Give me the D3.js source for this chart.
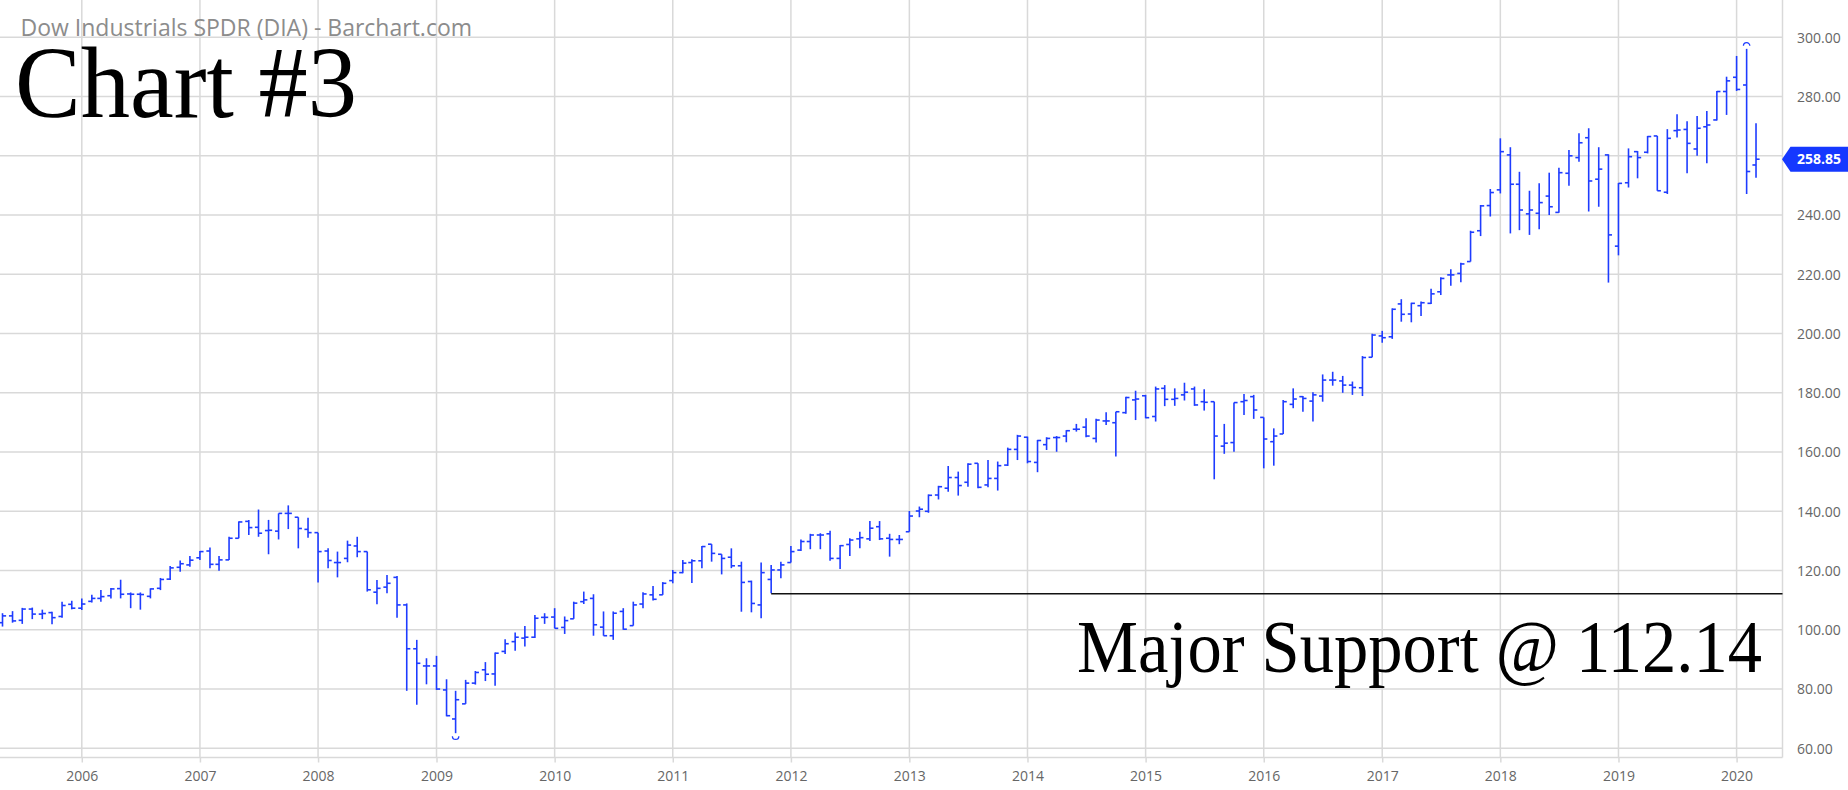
<!DOCTYPE html>
<html><head><meta charset="utf-8">
<script src="https://cdn.jsdelivr.net/npm/d3@7/dist/d3.min.js"></script>
<style>
html,body{margin:0;padding:0;background:#fff;}
svg{display:block;}
</style></head>
<body>
<svg id="chart" width="1848" height="790"></svg>
<script>
// ---- data (monthly OHLC, Dow Industrials SPDR, starting May 2005) ----
const startMonth = "2005-05";
const open = [
 102.4,104.7,103.2,107.0,105.3,105.8,104.5,108.6,
 107.3,109.6,110.6,111.5,113.9,112.1,112.0,111.3,114.0,117.1,121.1,121.9,
 124.3,126.6,122.1,123.6,130.9,136.6,134.6,133.5,133.3,139.3,138.0,133.9,
 132.8,126.6,122.7,124.1,128.3,126.4,112.7,114.4,117.7,108.4,93.6,87.8,
 87.8,79.7,69.9,75.0,82.0,86.5,85.1,92.7,96.0,97.2,97.5,104.2,
 104.3,100.8,103.7,109.5,110.6,100.9,98.0,106.2,101.4,108.7,111.8,111.8,
 116.6,119.3,122.7,123.3,128.9,125.5,124.5,121.6,116.3,108.4,117.0,120.2,
 122.7,126.9,129.8,132.0,132.4,124.1,128.8,130.7,130.7,134.8,130.9,130.5,
 133.1,140.1,140.0,145.5,147.8,151.4,149.8,156.2,148.9,151.1,155.6,160.9,
 165.0,156.5,162.5,164.9,165.4,167.7,168.4,164.6,170.5,169.9,173.3,177.6,
 179.0,172.0,181.5,177.8,179.3,181.3,177.0,177.0,162.0,163.2,177.0,178.7,
 171.7,163.5,166.1,176.1,178.7,177.2,178.9,184.3,184.0,182.6,181.7,192.0,
 199.2,198.9,210.0,206.6,209.4,210.2,214.1,219.8,220.3,224.3,234.7,243.2,
 248.5,260.3,250.4,240.4,240.6,246.4,240.9,254.1,259.4,266.1,252.1,260.3,
 229.5,250.9,261.4,261.2,266.7,247.7,268.5,268.9,262.3,269.8,272.1,281.7,
 286.5,283.9,256.9
];
const high = [
 105.6,106.3,107.4,107.5,106.8,106.1,109.5,109.8,
 110.6,111.8,113.4,114.1,116.9,112.6,112.6,114.0,117.5,121.5,123.4,124.9,
 126.6,127.8,124.9,131.4,136.6,137.1,140.6,137.1,139.3,142.0,138.0,137.8,
 132.8,127.5,126.4,130.1,131.4,126.4,116.8,118.5,118.2,108.9,96.6,90.4,
 91.2,83.3,79.4,83.1,86.1,89.1,92.3,96.8,99.1,101.3,105.0,105.6,
 107.3,104.5,109.5,112.9,112.0,106.2,106.2,107.3,109.5,112.7,114.8,116.1,
 120.2,123.6,123.8,128.3,128.9,125.5,127.5,123.0,116.6,122.7,121.9,123.0,
 128.3,130.5,132.4,132.6,133.4,128.6,130.9,133.1,136.7,136.7,132.4,132.0,
 140.1,141.6,145.7,148.6,155.3,153.4,156.2,156.2,157.3,156.8,161.5,165.8,
 165.2,164.1,165.0,165.4,167.4,169.5,171.4,171.2,173.4,173.6,178.7,180.7,
 179.3,182.1,182.6,181.5,183.4,182.1,181.2,177.0,169.5,176.7,179.6,179.3,
 171.7,168.0,177.6,181.5,178.9,180.2,186.2,187.1,185.7,183.8,192.4,199.9,
 200.9,208.5,211.6,210.4,210.8,215.1,219.0,221.7,223.9,234.7,243.4,248.8,
 265.9,262.9,254.6,248.2,250.7,254.3,256.0,262.0,267.6,269.3,262.9,260.5,
 250.8,262.5,261.6,266.7,266.7,269.0,274.0,271.7,273.4,275.1,281.9,286.7,
 293.7,296.1,271.0
];
const low = [
 101.1,102.4,102.0,103.6,103.6,101.9,104.1,106.9,
 106.7,109.2,109.5,110.6,110.6,107.3,106.8,110.6,113.4,116.8,119.6,121.3,
 123.6,120.8,119.9,123.6,130.9,132.0,131.4,125.5,130.5,134.0,127.5,131.1,
 116.0,120.8,117.7,122.8,124.5,112.9,108.6,112.3,104.1,79.4,74.7,81.6,
 79.7,70.8,65.1,75.0,81.5,82.7,81.1,91.8,92.9,94.4,97.2,102.0,
 100.5,98.6,103.7,108.7,98.0,98.0,96.6,100.0,101.4,107.3,109.9,111.8,
 115.7,119.1,115.8,120.8,123.0,118.7,120.8,106.1,105.9,103.9,112.3,117.4,
 122.7,126.6,127.2,127.2,123.3,120.5,124.9,127.5,130.0,130.3,124.7,128.9,
 133.1,138.0,139.5,144.0,146.6,145.3,148.3,147.8,148.1,147.0,155.3,157.3,
 156.2,153.2,160.7,160.1,163.3,166.9,165.0,163.2,169.1,158.5,172.9,170.8,
 171.4,170.3,175.5,175.6,177.4,175.6,174.0,150.8,159.4,160.1,172.5,171.2,
 154.5,155.4,166.1,174.8,173.6,170.3,177.0,182.4,180.0,179.3,178.9,192.0,
 196.9,198.2,204.0,203.8,205.9,210.0,213.0,216.1,217.3,224.3,232.9,239.5,
 247.3,233.8,234.9,233.3,235.2,240.0,240.8,249.9,258.0,241.2,242.8,217.2,
 226.4,249.3,252.4,260.8,248.2,247.1,266.2,254.1,260.0,257.5,271.9,273.8,
 281.9,247.1,252.6
];
const close = [
 104.7,103.0,107.0,105.3,105.5,104.1,108.2,107.3,
 108.7,110.6,111.2,113.8,112.0,112.0,111.9,113.8,117.0,120.9,122.3,123.5,
 126.4,122.1,123.6,130.9,136.4,134.5,132.6,133.6,139.3,139.3,134.2,132.8,
 126.4,123.4,122.7,128.6,126.4,113.5,114.0,115.7,108.4,93.6,88.7,87.8,
 80.0,71.0,76.4,82.0,85.6,85.0,92.1,95.3,97.5,97.5,103.9,104.2,
 100.5,103.1,109.0,110.1,101.7,98.0,105.6,100.2,108.4,112.1,110.3,115.7,
 119.3,122.5,123.3,128.1,125.8,124.1,121.6,116.0,108.9,119.3,120.2,121.9,
 126.4,129.8,132.0,132.0,124.1,128.4,130.3,131.1,134.3,130.7,130.5,130.5,
 138.4,140.7,145.4,148.3,151.4,148.7,155.9,148.1,151.1,155.4,160.9,165.4,
 156.8,163.9,164.6,164.9,167.2,167.7,165.4,170.8,170.5,173.6,178.4,177.9,
 171.6,181.3,177.8,178.1,180.2,175.9,176.8,165.4,163.0,176.7,177.4,174.2,
 164.4,165.4,177.0,177.9,178.1,179.3,184.3,184.3,182.6,181.8,191.9,199.5,
 198.6,208.2,206.5,210.2,210.4,213.4,218.6,219.8,223.5,234.2,243.1,247.6,
 261.4,250.4,241.7,241.7,244.2,242.8,254.3,260.0,264.4,251.5,255.5,233.3,
 250.7,259.7,259.4,266.5,248.2,265.9,268.7,264.2,269.3,270.4,281.7,285.3,
 282.4,254.7,258.85
];
const yTicks = [60,80,100,120,140,160,180,200,220,240,260,280,300];
const xTickYears = [2006,2007,2008,2009,2010,2011,2012,2013,2014,2015,2016,2017,2018,2019,2020];
const lastPrice = 258.85;
const supportLevel = 112.14;
const supportStart = "2011-11";
const titleText = "Dow Industrials SPDR (DIA) - Barchart.com";
const chartLabel = "Chart #3";
const supportLabel = "Major Support @ 112.14";

// ---- build ----
const parseM = d3.utcParse("%Y-%m");
const start = parseM(startMonth);
const bars = open.map((o,i)=>({date:d3.utcMonth.offset(start,i),o,h:high[i],l:low[i],c:close[i]}));

const W = 1848, H = 790;
const plotRight = 1782.5, plotBottom = 757.5;
const BLUE = "#1e3cff", GRID = "#d9d9d9";

const x = d3.scaleUtc().domain([new Date(Date.UTC(2006,0,1)), new Date(Date.UTC(2020,0,1))]).range([81.8, 1736.6]);
const y = d3.scaleLinear().domain([60,300]).range([748.3, 37.3]);

const svg = d3.select("#chart");

// grid
const g = svg.append("g");
g.selectAll("line.h").data(yTicks).join("line")
  .attr("x1",0).attr("x2",plotRight).attr("y1",d=>y(d)).attr("y2",d=>y(d))
  .attr("stroke",GRID).attr("stroke-width",1.5);
g.selectAll("line.v").data(xTickYears).join("line")
  .attr("x1",d=>x(new Date(Date.UTC(d,0,1)))).attr("x2",d=>x(new Date(Date.UTC(d,0,1))))
  .attr("y1",0).attr("y2",plotBottom)
  .attr("stroke",GRID).attr("stroke-width",1.5);
// borders
g.append("line").attr("x1",0).attr("x2",plotRight).attr("y1",plotBottom).attr("y2",plotBottom).attr("stroke",GRID).attr("stroke-width",1.5);
g.append("line").attr("x1",plotRight).attr("x2",plotRight).attr("y1",0).attr("y2",plotBottom).attr("stroke",GRID).attr("stroke-width",1.5);

// y axis
const yAxis = d3.axisRight(y).tickValues(yTicks).tickFormat(d3.format(".2f")).tickSize(0).tickPadding(14.5);
const ya = svg.append("g").attr("transform",`translate(${plotRight},0)`).call(yAxis);
ya.select(".domain").remove();
ya.selectAll("text").attr("font-family","'Open Sans', sans-serif").attr("font-size",14).attr("fill","#666").attr("dy","0.35em");

// x axis
const xAxis = d3.axisBottom(x).tickValues(xTickYears.map(d=>new Date(Date.UTC(d,0,1)))).tickFormat(d3.utcFormat("%Y")).tickSize(5).tickPadding(8.3);
const xa = svg.append("g").attr("transform",`translate(0,${plotBottom})`).call(xAxis);
xa.select(".domain").remove();
xa.selectAll(".tick line").attr("stroke",GRID).attr("stroke-width",1.5);
xa.selectAll("text").attr("font-family","'Open Sans', sans-serif").attr("font-size",14).attr("fill","#666");

// title
svg.append("text").attr("x",20.5).attr("y",35.7).attr("font-family","'Open Sans', sans-serif").attr("font-size",23).attr("fill","#8c8c8c").text(titleText);

// OHLC bars
const tw = 3.6;
const bg = svg.append("g").attr("stroke",BLUE).attr("stroke-width",1.6).attr("fill","none");
const bar = bg.selectAll("g").data(bars).join("g");
bar.append("line").attr("x1",d=>x(d.date)).attr("x2",d=>x(d.date)).attr("y1",d=>y(d.h)).attr("y2",d=>y(d.l));
bar.append("line").attr("x1",d=>x(d.date)-tw).attr("x2",d=>x(d.date)).attr("y1",d=>y(d.o)).attr("y2",d=>y(d.o));
bar.append("line").attr("x1",d=>x(d.date)).attr("x2",d=>x(d.date)+tw).attr("y1",d=>y(d.c)).attr("y2",d=>y(d.c));

// high / low markers
const hi = bars.reduce((a,b)=>b.h>a.h?b:a);
const lo = bars.reduce((a,b)=>b.l<a.l?b:a);
const r = 3.2;
bg.append("path").attr("d",`M${x(hi.date)-r},${y(hi.h)-3} A${r},${r} 0 0 1 ${x(hi.date)+r},${y(hi.h)-3}`).attr("stroke-width",1.3);
bg.append("path").attr("d",`M${x(lo.date)-r},${y(lo.l)+3} A${r},${r} 0 0 0 ${x(lo.date)+r},${y(lo.l)+3}`).attr("stroke-width",1.3);

// support line
svg.append("line").attr("x1",x(parseM(supportStart))).attr("x2",plotRight)
  .attr("y1",y(supportLevel)).attr("y2",y(supportLevel)).attr("stroke","#111").attr("stroke-width",1.5);

// annotations
svg.append("text").attr("x",15).attr("y",117).attr("font-family","'Liberation Serif','Times New Roman',serif")
  .attr("font-size",102).attr("fill","#000").attr("textLength",342).attr("lengthAdjust","spacingAndGlyphs").text(chartLabel);
svg.append("text").attr("x",1077).attr("y",672).attr("font-family","'Liberation Serif','Times New Roman',serif")
  .attr("font-size",75).attr("fill","#000").attr("textLength",685).attr("lengthAdjust","spacingAndGlyphs").text(supportLabel);

// last price label
const ly = y(lastPrice);
svg.append("path").attr("d",`M${plotRight-0.5},${ly} L${plotRight+8},${ly-12.5} L${W},${ly-12.5} L${W},${ly+12.5} L${plotRight+8},${ly+12.5} Z`).attr("fill","#1538ff");
svg.append("text").attr("x",1819).attr("y",ly).attr("dy","0.35em").attr("text-anchor","middle")
  .attr("font-family","'Open Sans', sans-serif").attr("font-weight","bold").attr("font-size",14).attr("fill","#fff")
  .text(d3.format(".2f")(lastPrice));
</script>
</body></html>
